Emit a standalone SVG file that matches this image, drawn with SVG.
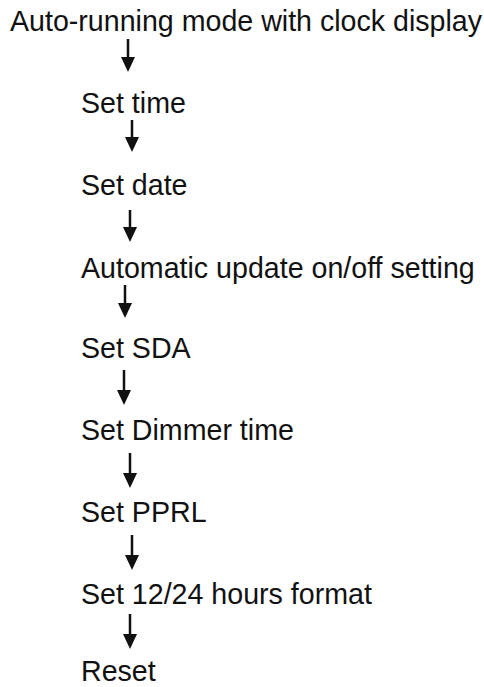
<svg xmlns="http://www.w3.org/2000/svg" width="484" height="687" viewBox="0 0 484 687">
<style>
text{font-family:"Liberation Sans",Arial,sans-serif;font-size:28.6px;fill:#111}
.ln{stroke:#111;stroke-width:2.5;fill:none}
.hd{fill:#111}
</style>
<rect width="484" height="687" fill="#fff"/>
<g id="n0"><text x="10" y="31">Auto-running mode with clock display</text></g>
<g id="n1"><text x="81" y="113">Set time</text></g>
<g id="n2"><text x="81" y="195">Set date</text></g>
<g id="n3"><text x="81" y="278">Automatic update on/off setting</text></g>
<g id="n4"><text x="81" y="358">Set SDA</text></g>
<g id="n5"><text x="81" y="440">Set Dimmer time</text></g>
<g id="n6"><text x="81" y="522">Set PPRL</text></g>
<g id="n7"><text x="81" y="604">Set 12/24 hours format</text></g>
<g id="n8"><text x="81" y="681">Reset</text></g>
<g id="connectors">
<path class="ln" d="M128,39V60"/><path class="hd" d="M121,57H135L128,72Z"/>
<path class="ln" d="M132,120V140"/><path class="hd" d="M125,137H139L132,152Z"/>
<path class="ln" d="M130,210V230"/><path class="hd" d="M123,227H137L130,242Z"/>
<path class="ln" d="M125,285V306"/><path class="hd" d="M118,303H132L125,318Z"/>
<path class="ln" d="M124,370V393"/><path class="hd" d="M117,390H131L124,405Z"/>
<path class="ln" d="M130,453V476"/><path class="hd" d="M123,473H137L130,488Z"/>
<path class="ln" d="M132,535V558"/><path class="hd" d="M125,555H139L132,570Z"/>
<path class="ln" d="M130,614V637"/><path class="hd" d="M123,634H137L130,649Z"/>
</g>
</svg>
